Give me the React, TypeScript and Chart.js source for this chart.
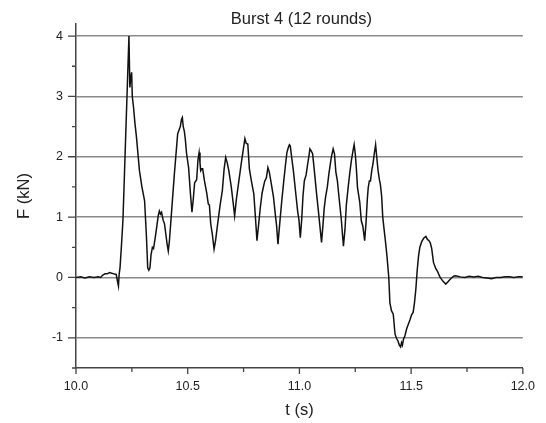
import React, { useEffect, useRef } from "react";
import { Chart, registerables } from "chart.js";

Chart.register(...registerables);

const titleText = "Burst 4 (12 rounds)";
const xAxisTitle = "t (s)";
const yAxisTitle = "F (kN)";

const xTicks = [10.0, 10.5, 11.0, 11.5, 12.0];
const xMinorTicks = [10.25, 10.75, 11.25, 11.75];
const yTicks = [-1, 0, 1, 2, 3, 4];
const yMinorTicks = [-1.5, -0.5, 0.5, 1.5, 2.5, 3.5];

const timeS = [
  10.0, 10.02, 10.04, 10.06, 10.08, 10.1, 10.11, 10.12, 10.13, 10.14, 10.15, 10.16, 10.17, 10.18, 10.185, 10.19,
  10.193, 10.197, 10.203, 10.21, 10.215, 10.222, 10.23, 10.237, 10.241, 10.245, 10.249, 10.252, 10.258, 10.264,
  10.27, 10.284, 10.295, 10.307, 10.315, 10.321, 10.326, 10.331, 10.336, 10.342, 10.347, 10.353, 10.36, 10.368,
  10.373, 10.378, 10.383, 10.39, 10.396, 10.402, 10.408, 10.413, 10.418, 10.425, 10.44, 10.455, 10.46, 10.467,
  10.472, 10.476, 10.48, 10.485, 10.489, 10.495, 10.504, 10.512, 10.519, 10.525, 10.531, 10.54, 10.546, 10.551,
  10.555, 10.558, 10.563, 10.567, 10.575, 10.585, 10.592, 10.597, 10.603, 10.61, 10.618, 10.625, 10.632, 10.645,
  10.655, 10.663, 10.67, 10.677, 10.684, 10.695, 10.703, 10.71, 10.718, 10.729, 10.74, 10.75, 10.756, 10.762,
  10.769, 10.776, 10.785, 10.796, 10.803, 10.81, 10.818, 10.825, 10.833, 10.84, 10.845, 10.852, 10.859, 10.865,
  10.872, 10.884, 10.892, 10.898, 10.904, 10.912, 10.921, 10.93, 10.938, 10.944, 10.95, 10.955, 10.959, 10.965,
  10.973, 10.982, 10.992, 10.998, 11.004, 11.01, 11.016, 11.022, 11.03, 11.037, 11.042, 11.047, 11.052, 11.059,
  11.066, 11.077, 11.085, 11.093, 11.099, 11.105, 11.111, 11.117, 11.125, 11.132, 11.136, 11.143, 11.151, 11.157,
  11.163, 11.17, 11.178, 11.188, 11.193, 11.197, 11.204, 11.21, 11.218, 11.226, 11.233, 11.24, 11.245, 11.25,
  11.255, 11.26, 11.27, 11.277, 11.284, 11.292, 11.298, 11.304, 11.308, 11.313, 11.318, 11.324, 11.329, 11.335,
  11.341, 11.346, 11.352, 11.358, 11.362, 11.368, 11.373, 11.378, 11.385, 11.392, 11.4, 11.405, 11.412, 11.42,
  11.428, 11.436, 11.441, 11.447, 11.453, 11.457, 11.461, 11.466, 11.472, 11.48, 11.487, 11.495, 11.502, 11.509,
  11.515, 11.521, 11.527, 11.533, 11.539, 11.548, 11.556, 11.566, 11.573, 11.58, 11.586, 11.592, 11.6, 11.61,
  11.618, 11.63, 11.642, 11.655, 11.665, 11.677, 11.69, 11.7, 11.72, 11.74, 11.76, 11.78, 11.8, 11.82, 11.84,
  11.86, 11.88, 11.9, 11.92, 11.94, 11.96, 11.98, 12.0,
];

const forceKN = [
  0.0, 0.01, -0.01, 0.01, 0.0, 0.01, 0.0, 0.04, 0.06, 0.06, 0.08, 0.07, 0.06, 0.05, -0.05, -0.14,
  0.05, 0.16, 0.5, 0.94, 1.5, 2.3, 3.2, 4.0, 3.15, 3.3, 3.4, 3.0, 2.8, 2.55,
  2.35, 1.77, 1.5, 1.27, 0.7, 0.16, 0.12, 0.16, 0.38, 0.5, 0.48, 0.62, 0.8, 1.02,
  1.1, 1.05, 1.08, 0.95, 0.89, 0.72, 0.55, 0.44, 0.6, 0.95, 1.7, 2.38, 2.43, 2.5,
  2.62, 2.65, 2.5, 2.42, 2.3, 2.05, 1.82, 1.4, 1.08, 1.3, 1.57, 1.62, 1.95, 2.07,
  1.9, 1.77, 1.8, 1.8, 1.6, 1.4, 1.22, 1.2, 0.89, 0.72, 0.47, 0.62, 0.83, 1.2,
  1.44, 1.8, 1.99, 1.9, 1.77, 1.5, 1.25, 1.02, 1.3, 1.6, 1.9, 2.15, 2.3, 2.22,
  2.21, 1.8, 1.6, 1.38, 1.0, 0.61, 0.9, 1.16, 1.4, 1.52, 1.6, 1.65, 1.82, 1.75,
  1.6, 1.33, 1.05, 0.85, 0.55, 0.9, 1.27, 1.6, 1.88, 2.07, 2.15, 2.2, 2.18, 2.0,
  1.77, 1.45, 1.1, 0.95, 0.66, 0.95, 1.35, 1.6, 1.7, 1.88, 2.0, 2.13, 2.1, 2.05,
  1.8, 1.38, 1.1, 0.8, 0.58, 0.85, 1.15, 1.33, 1.5, 1.72, 1.82, 2.0, 2.13, 2.05,
  1.75, 1.6, 1.3, 0.94, 0.7, 0.52, 0.8, 1.2, 1.49, 1.75, 1.95, 2.1, 2.2, 2.05,
  1.8, 1.49, 1.25, 0.94, 0.85, 0.61, 0.9, 1.3, 1.49, 1.6, 1.6, 1.78, 1.88, 2.05,
  2.2, 2.0, 1.77, 1.62, 1.55, 1.35, 1.0, 0.83, 0.6, 0.35, 0.0, -0.42, -0.55, -0.61,
  -0.94, -1.02, -1.05, -1.12, -1.15, -1.08, -1.12, -1.02, -0.97, -0.85, -0.78, -0.7, -0.62, -0.58,
  -0.42, -0.2, 0.11, 0.35, 0.5, 0.6, 0.65, 0.68, 0.63, 0.61, 0.57, 0.48, 0.25, 0.15,
  0.1, 0.0, -0.06, -0.11, -0.07, -0.02, 0.02, 0.03, 0.01, 0.0, 0.02, 0.01, 0.02, 0.0, -0.01,
  -0.02, 0.0, 0.0, 0.01, 0.01, 0.0, 0.01, 0.01,
];

const FONT = "'Liberation Sans', Arial, sans-serif";

const decorPlugin = {
  id: "decor",
  afterDraw(chart: any) {
    const { ctx, chartArea, scales } = chart;
    const xs = scales.x;
    const ys = scales.y;
    ctx.save();
    ctx.strokeStyle = "#444";
    ctx.lineWidth = 1.3;
    ctx.beginPath();
    for (const v of yTicks) {
      const p = ys.getPixelForValue(v);
      ctx.moveTo(chartArea.left - 8, p);
      ctx.lineTo(chartArea.left, p);
    }
    for (const v of yMinorTicks) {
      const p = ys.getPixelForValue(v);
      ctx.moveTo(chartArea.left - 4, p);
      ctx.lineTo(chartArea.left, p);
    }
    for (const v of xTicks) {
      const p = xs.getPixelForValue(v);
      ctx.moveTo(p, chartArea.bottom);
      ctx.lineTo(p, chartArea.bottom + 6);
    }
    for (const v of xMinorTicks) {
      const p = xs.getPixelForValue(v);
      ctx.moveTo(p, chartArea.bottom);
      ctx.lineTo(p, chartArea.bottom + 4);
    }
    ctx.stroke();
    ctx.fillStyle = "#222";
    ctx.font = `16.5px ${FONT}`;
    ctx.textAlign = "center";
    ctx.textBaseline = "middle";
    ctx.fillText(titleText, (chartArea.left + chartArea.right) / 2 + 2, 19);
    ctx.restore();
  },
};

export default function App() {
  const ref = useRef<HTMLCanvasElement | null>(null);
  useEffect(() => {
    if (!ref.current) return;
    const points = timeS.map((t, i) => ({ x: t, y: forceKN[i] }));
    const chart = new Chart(ref.current, {
      type: "line",
      data: {
        datasets: [
          {
            data: points,
            borderColor: "#111",
            borderWidth: 1.5,
            pointRadius: 0,
            tension: 0,
            fill: false,
          },
        ],
      },
      options: {
        animation: false,
        responsive: false,
        devicePixelRatio: 1,
        layout: { padding: { top: 24, right: 20, left: 0, bottom: 0 } },
        plugins: { legend: { display: false }, tooltip: { enabled: false }, title: { display: false } },
        scales: {
          x: {
            type: "linear",
            min: 10,
            max: 12,
            afterBuildTicks: (s: any) => {
              s.ticks = xTicks.map((v) => ({ value: v }));
            },
            afterFit: (s: any) => {
              s.height = 55;
            },
            grid: { display: false, drawTicks: false },
            border: { display: true, color: "#444", width: 1.5 },
            ticks: {
              padding: 11,
              color: "#222",
              font: { family: FONT, size: 12.5 },
              maxRotation: 0,
              callback: (v: any) => Number(v).toFixed(1),
            },
            title: {
              display: true,
              text: xAxisTitle,
              color: "#222",
              font: { family: FONT, size: 16.5 },
              padding: { top: 0, bottom: 3 },
            },
          },
          y: {
            type: "linear",
            min: -1.5,
            max: 4.2,
            afterBuildTicks: (s: any) => {
              s.ticks = yTicks.map((v) => ({ value: v }));
            },
            afterFit: (s: any) => {
              s.width = 76;
            },
            grid: { display: true, drawTicks: false, color: "#8a8a8a", lineWidth: 1.5 },
            border: { display: true, color: "#444", width: 1.5 },
            ticks: {
              padding: 13,
              color: "#222",
              font: { family: FONT, size: 12.5 },
              callback: (v: any) => String(v),
            },
            title: {
              display: true,
              text: yAxisTitle,
              color: "#222",
              font: { family: FONT, size: 16.5 },
              padding: { top: 14.5, bottom: 0 },
            },
          },
        },
      },
      plugins: [decorPlugin],
    } as any);
    return () => chart.destroy();
  }, []);
  return (
    <div style={{ position: "absolute", left: 0, top: 0, width: 546, height: 423, background: "#fff" }}>
      <canvas ref={ref} width={546} height={423} />
    </div>
  );
}
